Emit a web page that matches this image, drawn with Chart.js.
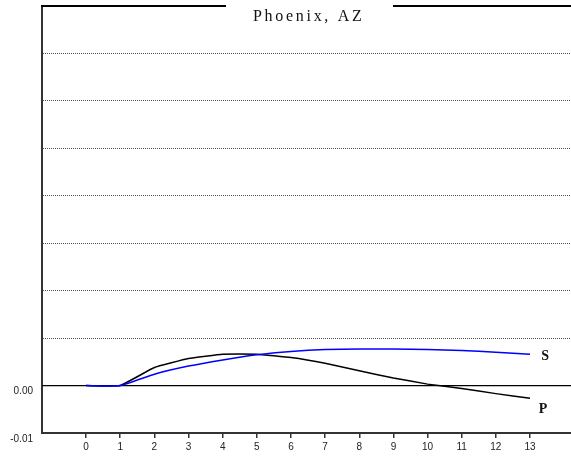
<!DOCTYPE html>
<html>
<head>
<meta charset="utf-8">
<title>Phoenix, AZ</title>
<script src="https://cdn.jsdelivr.net/npm/chart.js@4/dist/chart.umd.min.js"></script>
<style>
  html, body { margin: 0; padding: 0; background: #fff; }
  #wrap { width: 571px; height: 457px; }
</style>
</head>
<body>
<div id="wrap"><canvas id="chart" width="571" height="457"></canvas></div>
<script>
// ---- data ----
const chartTitle = 'Phoenix, AZ';
const xVals = [0, 1, 2, 3, 4, 5, 6, 7, 8, 9, 10, 11, 12, 13];
const sVals = [0, 0, 0.0024, 0.0041, 0.0054, 0.0065, 0.0072, 0.0076, 0.0077, 0.0077, 0.0076, 0.0074, 0.0070, 0.0066];
const pVals = [0, 0, 0.0038, 0.0057, 0.0066, 0.0066, 0.0059, 0.0047, 0.0031, 0.0016, 0.0003, -0.0006, -0.0017, -0.0027];
const yLabelled = [-0.01, 0.00];

const toPoints = vals => vals.map((v, i) => ({ x: xVals[i], y: v }));

// zero line + framed title + series tags
const decorations = {
  id: 'decorations',
  beforeDatasetsDraw(chart) {
    const { ctx, chartArea, scales } = chart;
    const y0 = scales.y.getPixelForValue(0);
    ctx.save();
    ctx.strokeStyle = '#000';
    ctx.lineWidth = 1.2;
    ctx.beginPath();
    ctx.moveTo(chartArea.left, y0);
    ctx.lineTo(chartArea.right, y0);
    ctx.stroke();
    // top frame line
    ctx.lineWidth = 2;
    ctx.beginPath();
    ctx.moveTo(chartArea.left - 1, chartArea.top);
    ctx.lineTo(chartArea.right, chartArea.top);
    ctx.stroke();
    ctx.restore();
  },
  afterDraw(chart) {
    const { ctx, chartArea, scales } = chart;
    ctx.save();
    // title sits in a white box cut into the top line
    ctx.fillStyle = '#fff';
    ctx.fillRect(226, chartArea.top - 3, 167, 8);
    ctx.font = '16px "Liberation Serif", "Times New Roman", serif';
    if ('letterSpacing' in ctx) ctx.letterSpacing = '2.7px';
    ctx.fillStyle = '#111';
    ctx.textAlign = 'left';
    ctx.textBaseline = 'alphabetic';
    ctx.fillText(chartTitle, 253, 21);
    if ('letterSpacing' in ctx) ctx.letterSpacing = '0px';

    // series tags at the right end
    ctx.font = 'bold 14px "Liberation Serif", "Times New Roman", serif';
    ctx.textAlign = 'center';
    ctx.textBaseline = 'middle';
    const last = xVals.length - 1;
    const xl = scales.x.getPixelForValue(xVals[last]);
    ctx.fillText('S', xl + 15, scales.y.getPixelForValue(sVals[last]) + 2);
    ctx.fillText('P', xl + 13, scales.y.getPixelForValue(pVals[last]) + 11);
    ctx.restore();
  }
};

new Chart(document.getElementById('chart'), {
  type: 'line',
  data: {
    datasets: [
      {
        label: 'S',
        data: toPoints(sVals),
        borderColor: '#0000ff',
        borderWidth: 1.5,
        pointRadius: 0,
        tension: 0.15,
        fill: false
      },
      {
        label: 'P',
        data: toPoints(pVals),
        borderColor: '#000',
        borderWidth: 1.5,
        pointRadius: 0,
        tension: 0.1,
        fill: false
      }
    ]
  },
  options: {
    responsive: false,
    animation: false,
    layout: { padding: { top: 6, right: 0, left: 0, bottom: 0 } },
    plugins: {
      legend: { display: false },
      title: { display: false },
      tooltip: { enabled: false }
    },
    scales: {
      x: {
        type: 'linear',
        min: -1.29,
        max: 14.2,
        afterBuildTicks: scale => { scale.ticks = xVals.map(v => ({ value: v })); },
        afterFit: scale => { scale.height = 24; },
        grid: { drawOnChartArea: false, drawTicks: true, tickLength: 5, color: '#333', lineWidth: 1.5 },
        border: { display: true, color: '#333', width: 2 },
        ticks: {
          autoSkip: false,
          maxRotation: 0,
          padding: 3,
          color: '#222',
          font: { family: "'Liberation Sans', Arial, sans-serif", size: 10 },
          callback: v => String(v)
        }
      },
      y: {
        min: -0.01,
        max: 0.08,
        afterFit: scale => { scale.width = 42; scale.paddingTop = 0; scale.paddingBottom = 0; },
        grid: {
          drawTicks: false,
          lineWidth: 1,
          color: c => {
            const v = Math.round(c.tick.value * 100);
            return (v >= 1 && v <= 7) ? '#555' : 'rgba(0,0,0,0)';
          }
        },
        border: { display: true, color: '#333', width: 2, dash: [1, 1] },
        ticks: {
          stepSize: 0.01,
          padding: 9,
          labelOffset: 6,
          color: '#222',
          font: { family: "'Liberation Sans', Arial, sans-serif", size: 10 },
          callback: v => {
            const r = Math.round(v * 100) / 100;
            return yLabelled.includes(r) ? r.toFixed(2) : '';
          }
        }
      }
    }
  },
  plugins: [decorations]
});
</script>
</body>
</html>
